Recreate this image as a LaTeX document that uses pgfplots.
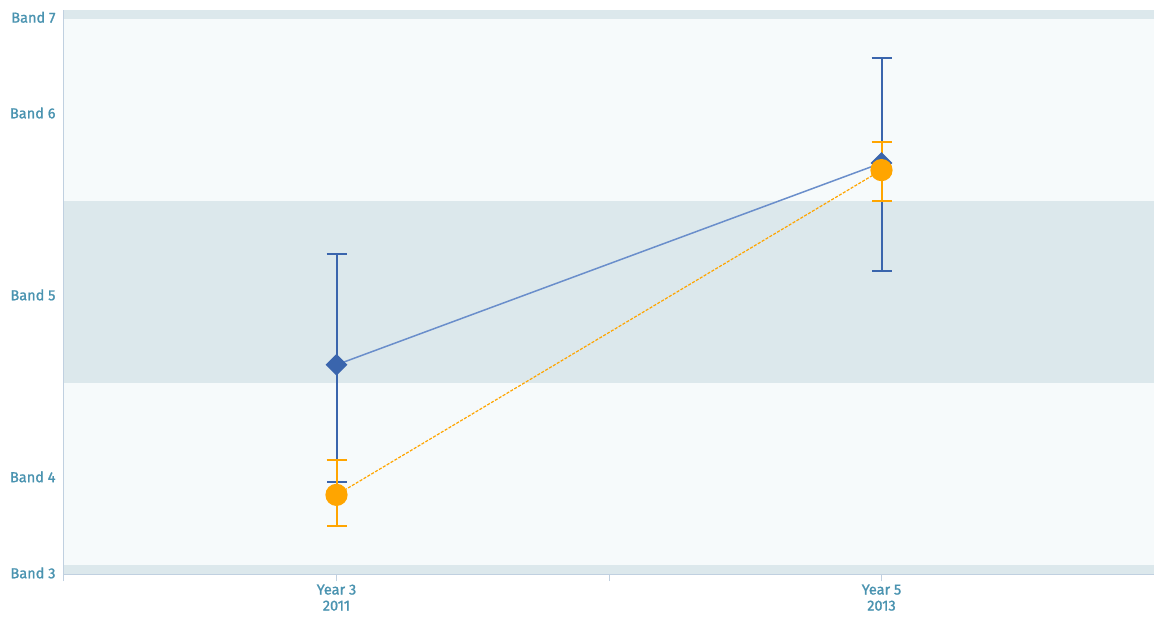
\documentclass[border=0pt]{standalone}
\usepackage{pgfplots}
\pgfplotsset{compat=1.18}
\usepackage{pgfplotstable}
\usepackage{fontspec}
\setmainfont{Fira Sans}
\newfontfamily\labelfont[FakeBold=1.3]{Fira Sans}

\definecolor{bandlight}{HTML}{F6FAFB}
\definecolor{banddark}{HTML}{DCE8EC}
\definecolor{axisline}{HTML}{C0D0E0}
\definecolor{labelcol}{HTML}{4A93B0}
\definecolor{schoolblue}{HTML}{3A65AD}
\definecolor{schoolline}{HTML}{6A8ECB}
\definecolor{stateorange}{HTML}{FFA500}

% x = test (0: Year 3 2011, 1: Year 5 2013), y = band, ep/em = error above/below
\pgfplotstableread{
x y ep em
0 4.600 0.609 0.644
1 5.709 0.577 0.594
}\schooldata
\pgfplotstableread{
x y ep em
0 3.885 0.192 0.171
1 5.670 0.154 0.170
}\statedata

\begin{document}
\begin{tikzpicture}
\begin{axis}[
  scale only axis,
  width=1090pt, height=564pt,
  xmin=-0.5, xmax=1.5,
  ymin=3.45, ymax=6.55,
  axis x line*=bottom, axis y line*=left,
  axis line style={axisline, line width=1pt, -},
  xtick={-0.5,0,0.5,1},
  xticklabels={,Year 3\\2011,,Year 5\\2013},
  xticklabel style={align=center, text=labelcol, font=\labelfont\fontsize{14.5}{16}\selectfont},
  tick align=outside,
  major tick length=7pt,
  x tick style={axisline, line width=1pt},
  ytick={3.456,3.984,4.984,5.984,6.51},
  yticklabels={Band 3,Band 4,Band 5,Band 6,Band 7},
  y tick style={draw=none},
  yticklabel style={text=labelcol, font=\labelfont\fontsize{14.5}{16}\selectfont, xshift=2pt},
  clip=false,
]
  % band stripes
  \fill[banddark]  (axis cs:-0.5,3.45) rectangle (axis cs:1.5,3.5);
  \fill[bandlight] (axis cs:-0.5,3.5)  rectangle (axis cs:1.5,4.5);
  \fill[banddark]  (axis cs:-0.5,4.5)  rectangle (axis cs:1.5,5.5);
  \fill[bandlight] (axis cs:-0.5,5.5)  rectangle (axis cs:1.5,6.5);
  \fill[banddark]  (axis cs:-0.5,6.5)  rectangle (axis cs:1.5,6.55);

  % school
  \addplot[schoolline, line width=1.5pt,
    mark=square*, mark size=7pt,
    mark options={schoolblue, fill=schoolblue, rotate=45, solid},
    error bars/.cd, y dir=both, y explicit,
    error bar style={schoolblue, line width=2pt},
    error mark options={schoolblue, line width=2.6pt, mark size=10pt, rotate=90}]
    table[x=x, y=y, y error plus=ep, y error minus=em]{\schooldata};

  % state
  \addplot[stateorange, line width=1.2pt, dash pattern=on 3pt off 1.5pt,
    mark=*, mark size=10.5pt,
    mark options={stateorange, fill=stateorange, solid},
    error bars/.cd, y dir=both, y explicit,
    error bar style={stateorange, line width=2pt, solid},
    error mark options={stateorange, line width=2.6pt, mark size=10pt, rotate=90, solid}]
    table[x=x, y=y, y error plus=ep, y error minus=em]{\statedata};
\end{axis}
\pgfresetboundingbox
\path[use as bounding box] (-64pt,-45pt) rectangle (1090pt,574pt);
\end{tikzpicture}
\end{document}
